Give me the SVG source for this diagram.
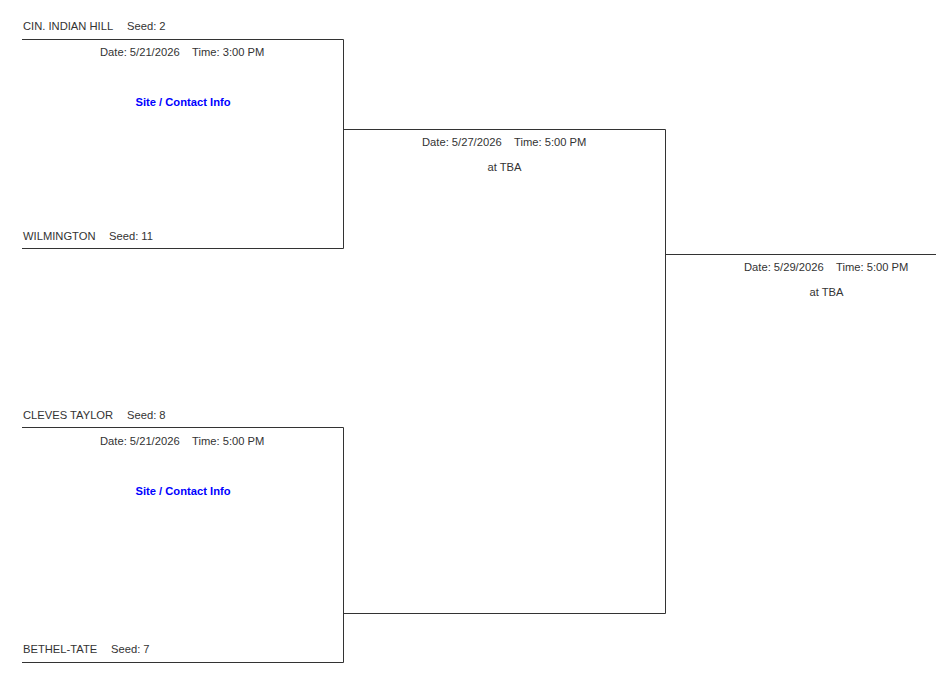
<svg xmlns="http://www.w3.org/2000/svg" width="936" height="685" viewBox="0 0 936 685">
<style>
text{font-family:"Liberation Sans",Arial,sans-serif;font-size:11.2px;fill:#333}
.c{text-anchor:middle}
.l{font-weight:bold;fill:#0000ff}
.w{fill:none;stroke:#333;stroke-width:1}
</style>
<rect width="936" height="685" fill="#fff"/>
<g id="connectors">
<path class="w" d="M22 39.500H343.500V248.500H22"/>
<path class="w" d="M22 427.500H343.500V662.500H22"/>
<path class="w" d="M344 129.500H665.500V613.500H344"/>
<path class="w" d="M666 254.500H936"/>
</g>
<g id="team1"><text x="23" y="30">CIN. INDIAN HILL</text><text x="127" y="30">Seed: 2</text></g>
<g id="team2"><text x="23" y="240">WILMINGTON</text><text x="109" y="240">Seed: 11</text></g>
<g id="team3"><text x="23" y="419">CLEVES TAYLOR</text><text x="127" y="419">Seed: 8</text></g>
<g id="team4"><text x="23" y="653">BETHEL-TATE</text><text x="111" y="653">Seed: 7</text></g>
<g id="game1"><text x="100" y="56">Date: 5/21/2026</text><text x="192" y="56">Time: 3:00 PM</text><text class="c l" x="183" y="106">Site / Contact Info</text></g>
<g id="game2"><text x="100" y="445">Date: 5/21/2026</text><text x="192" y="445">Time: 5:00 PM</text><text class="c l" x="183" y="495">Site / Contact Info</text></g>
<g id="game3"><text x="422" y="146">Date: 5/27/2026</text><text x="514" y="146">Time: 5:00 PM</text><text class="c" x="504.500" y="171">at TBA</text></g>
<g id="game4"><text x="744" y="271">Date: 5/29/2026</text><text x="836" y="271">Time: 5:00 PM</text><text class="c" x="826.500" y="296">at TBA</text></g>
</svg>
